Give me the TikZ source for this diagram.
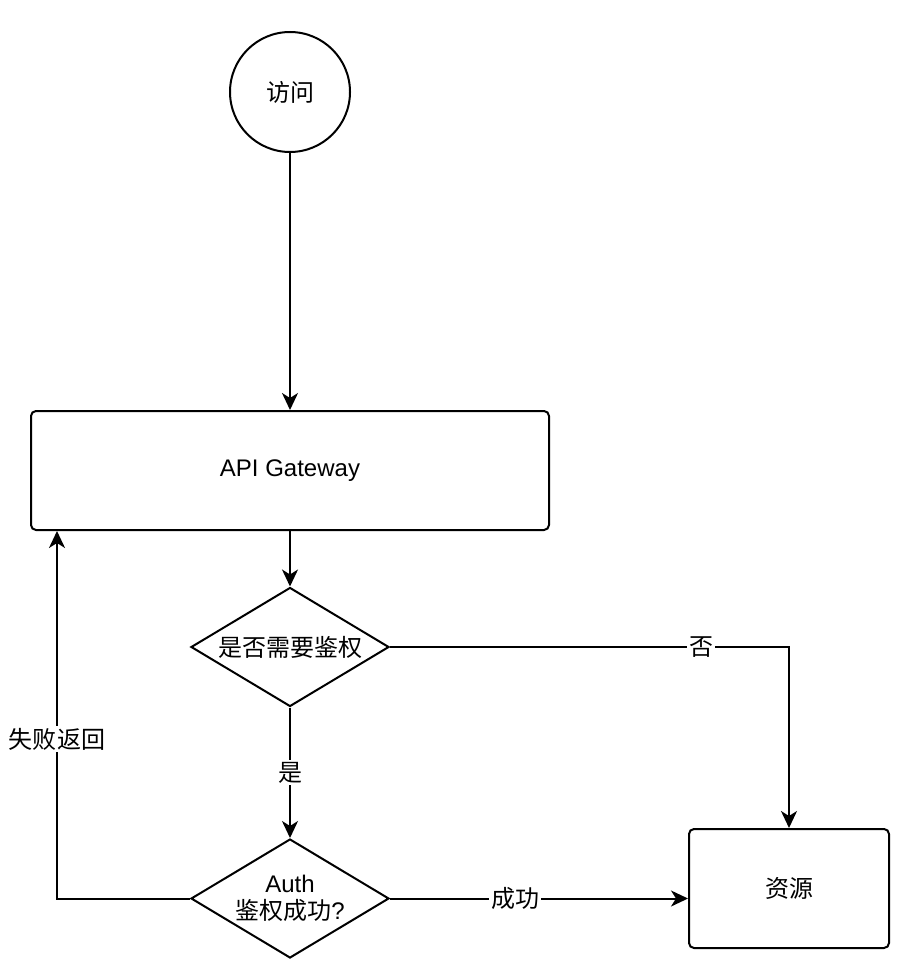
\documentclass[tikz,border=0pt]{standalone}
\usepackage{fontspec}
\setmainfont{Liberation Sans}
\newfontfamily\cjk{Noto Sans CJK SC}
\usetikzlibrary{positioning,calc,shapes.geometric,arrows.meta}

\tikzset{
    box/.style={draw,line width=1pt,rounded corners=2.5pt,minimum width=259pt,minimum height=59.5pt},
    dia/.style={draw,line width=1pt,diamond,inner sep=0pt,aspect=1.68,minimum width=99pt,minimum height=59.5pt},
    flow/.style={line width=1pt,-{Stealth[length=8.5pt,width=8pt,inset=2.5pt]}},
    lbl/.style={fill=white,inner sep=1pt}
}

\begin{document}
\begin{tikzpicture}[x=0.5pt,y=-0.5pt,font=\fontsize{12}{13.5}\selectfont]
        \useasboundingbox (0,0) rectangle (910,978);

        \node[draw,line width=1pt,circle,minimum size=60pt] (visit) at (290,92) {\cjk 访问};
        \node[box] (gw) at (290,470.5) {API Gateway};
        \node[dia] (need) at (290,647) {\cjk 是否需要鉴权};
        \node[dia,align=center] (auth) at (290,898.5) {Auth\\{\cjk 鉴权成功}?};
        \node[box,minimum width=100pt] (res) at (789,888.5) {\cjk 资源};

        \coordinate (back) at ($ (gw.south west)+(27,0) $);

        \draw[flow] (visit) -- (gw);
        \draw[flow] (gw) -- (need);
        \draw[flow] (need) -- node[lbl] {\cjk 是} (auth);
        \draw[flow] (need.east) -| node[lbl,pos=0.39] {\cjk 否} (res.north);
        \draw[flow] (auth.east) -- node[lbl,pos=0.42] {\cjk 成功} (auth.east -| res.west);
        \draw[flow] (auth.west) -| node[lbl,pos=0.717] {\cjk 失败返回} (back);
    \end{tikzpicture}
\end{document}
